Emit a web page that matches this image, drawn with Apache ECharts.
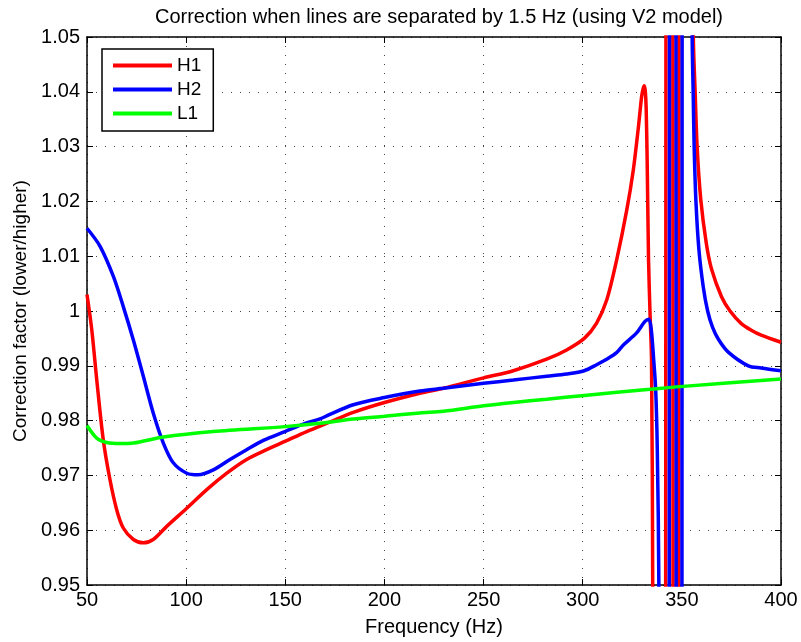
<!DOCTYPE html>
<html>
<head>
<meta charset="utf-8">
<script src="https://cdn.jsdelivr.net/npm/echarts@6/dist/echarts.min.js"></script>
<style>html,body{margin:0;padding:0;background:#fff}#chart{width:801px;height:642px}</style>
</head>
<body>
<div id="chart"></div>
<script>
// ---- data (values beyond 0.95..1.05 are off-scale estimates) ----
const titleText = 'Correction when lines are separated by 1.5 Hz (using V2 model)';
const xLabel = 'Frequency (Hz)';
const yLabel = 'Correction factor (lower/higher)';
const seriesNames = ['H1', 'H2', 'L1'];

const xTickLabels = ['50', '100', '150', '200', '250', '300', '350', '400'];
const yTickLabels = ['0.95', '0.96', '0.97', '0.98', '0.99', '1', '1.01', '1.02', '1.03', '1.04', '1.05'];

const freqH1 = [50, 52.4, 54.9, 58.2, 61.6, 65, 68.3, 73.4, 78.4, 83.4, 90.2, 100.3, 110.4, 120.5, 130.5, 140.6, 149.8, 160.8, 172.2, 184.3, 200, 217.9, 229.7, 250, 265, 281.8, 291.9, 300.8, 307, 312.1, 317.1, 322.2, 325.5, 328.1, 329.7, 330.5, 331.1, 331.6, 332.0, 332.5, 333.2, 334.0, 334.7, 335.3, 336.2,
  341.6, 342.2, 345.3, 345.7, 348.3, 348.7, 355.3, 355.8, 356.7, 357.7, 359.5, 362.3, 365, 370, 374.3, 380, 385, 390, 400];
const valH1 = [1.0030, 0.9966, 0.9875, 0.9765, 0.9692, 0.9637, 0.9604, 0.9583, 0.9577, 0.9583, 0.9607, 0.9640, 0.9674, 0.9704, 0.9729, 0.9747, 0.9762, 0.9780, 0.9797, 0.9815, 0.9833, 0.9850, 0.9859, 0.9878, 0.9891, 0.9912, 0.9929, 0.9950, 0.9978, 1.0020, 1.0093, 1.0184, 1.0257, 1.0336, 1.0391, 1.0406, 1.0411, 1.0400, 1.0370, 1.0276, 1.0093, 0.9990, 0.9911, 0.9500, 0.7500,
  0.7500, 1.2500, 1.2500, 0.7500, 0.7500, 1.2500, 1.1000, 1.0500, 1.0400, 1.0300, 1.0205, 1.0124, 1.0076, 1.0026, 1.0000, 0.9977, 0.9965, 0.9956, 0.9943];

const freqH2 = [50, 56.6, 63.3, 68.3, 73.3, 78.4, 83.4, 88.5, 93.5, 100.3, 106.1, 113.7, 122.1, 130.5, 138.9, 149.8, 160, 167.5, 172.2, 184.3, 200, 217.9, 229.7, 250, 265, 281.8, 291.9, 300.8, 307, 312.1, 317.1, 320.5, 327.2, 331.4, 333.4, 334.6, 335.8, 336.8, 337.6, 338.4, 338.9,
  343.4, 344.0, 346.9, 347.3, 349.9, 350.3, 354.9, 355.2, 355.7, 356.2, 357.1, 358.6, 360.8, 363.0, 365.5, 368.5, 373.4, 383.5, 390, 400];
const valH2 = [1.0151, 1.0118, 1.0063, 1.0008, 0.9948, 0.9881, 0.9814, 0.9759, 0.9723, 0.9704, 0.9701, 0.9710, 0.9729, 0.9747, 0.9764, 0.9780, 0.9795, 0.9803, 0.9811, 0.9829, 0.9842, 0.9854, 0.9859, 0.9868, 0.9874, 0.9881, 0.9885, 0.9891, 0.9902, 0.9912, 0.9924, 0.9938, 0.9960, 0.9981, 0.9985, 0.9965, 0.9911, 0.9856, 0.9750, 0.9500, 0.7500,
  0.7500, 1.2500, 1.2500, 0.7500, 0.7500, 1.2500, 1.1000, 1.0500, 1.0400, 1.0300, 1.0200, 1.0112, 1.0044, 1.0000, 0.9970, 0.9948, 0.9925, 0.9900, 0.9896, 0.9891];

const freqL1 = [50, 54.9, 59.9, 66.6, 73.4, 88.5, 113.7, 149.8, 167.5, 184.3, 200, 217.9, 229.7, 250, 265, 281.8, 300.8, 333.9, 349, 400];
const valL1 = [0.9791, 0.9768, 0.9760, 0.9758, 0.9759, 0.9770, 0.9780, 0.9789, 0.9795, 0.9803, 0.9808, 0.9814, 0.9817, 0.9827, 0.9833, 0.9839, 0.9846, 0.9857, 0.9862, 0.9876];

const colors = ['#ff0000', '#0000ff', '#00ff00'];

// ---- chart ----
const FONT = 'Liberation Sans, Arial, sans-serif';
const xMin = Number(xTickLabels[0]), xMax = Number(xTickLabels[xTickLabels.length - 1]);
const yMin = Number(yTickLabels[0]), yMax = Number(yTickLabels[yTickLabels.length - 1]);
const pairs = (xs, ys, a, b) => xs.slice(a, b).map((x, i) => [x, ys[a + i]]);

// split a curve into: smooth in-range part, off-scale (straight) resonance part, smooth in-range tail
function pieces(xs, ys) {
  const out = ys.map(v => v < yMin || v > yMax);
  const first = out.indexOf(true), last = out.lastIndexOf(true);
  if (first < 0) return [{ data: pairs(xs, ys, 0, xs.length), smooth: true }];
  return [
    { data: pairs(xs, ys, 0, first + 1), smooth: true },
    { data: pairs(xs, ys, first, last + 1), smooth: false },
    { data: pairs(xs, ys, last, xs.length), smooth: true }
  ];
}

const yLabelFor = v => { const s = String(parseFloat(Number(v).toFixed(2))); return yTickLabels.includes(s) ? s : ''; };
const gridLine = { show: true, lineStyle: { color: '#444', width: 1, type: [1, 8] } };
const txt = { color: '#000', fontFamily: FONT, fontSize: 20 };

const baseX = { type: 'value', min: xMin, max: xMax, interval: 50,
  axisLine: { show: true, onZero: false, lineStyle: { color: '#000', width: 1.5 } },
  axisTick: { show: true, inside: true, length: 6, lineStyle: { color: '#000', width: 1 } } };
const baseY = { type: 'value', min: yMin, max: yMax, interval: 0.01,
  axisLine: { show: true, onZero: false, lineStyle: { color: '#000', width: 1.5 } },
  axisTick: { show: true, inside: true, length: 6, lineStyle: { color: '#000', width: 1 } } };

const curves = [[freqH1, valH1], [freqH2, valH2], [freqL1, valL1]];
const series = [];
curves.forEach(([xs, ys], i) => {
  pieces(xs, ys).forEach(p => series.push({
    name: seriesNames[i], type: 'line', data: p.data, smooth: p.smooth ? 0.3 : false,
    xAxisIndex: 0, yAxisIndex: 0, symbol: 'none', showSymbol: false, clip: true,
    color: colors[i], itemStyle: { color: colors[i] }, lineStyle: { color: colors[i], width: 3.5 }, z: 3 + i
  }));
});

const chart = echarts.init(document.getElementById('chart'), null, { renderer: 'canvas' });
chart.setOption({
  animation: false,
  backgroundColor: '#fff',
  title: { text: titleText, left: 434, top: 2, textAlign: 'center',
    textStyle: { color: '#000', fontFamily: FONT, fontSize: 20, fontWeight: 'normal' } },
  grid: { left: 87, right: 20, top: 37, bottom: 57, containLabel: false },
  legend: {
    data: seriesNames, orient: 'vertical', left: 102, top: 49, icon: 'rect',
    padding: [7, 12, 8, 11], itemWidth: 59, itemHeight: 4, itemGap: 5,
    backgroundColor: '#fff', borderColor: '#000', borderWidth: 1.5,
    textStyle: { color: '#000', fontFamily: FONT, fontSize: 19 }
  },
  xAxis: [
    Object.assign({}, baseX, { position: 'bottom', name: xLabel, nameLocation: 'middle', nameGap: 32,
      nameTextStyle: txt, axisLabel: Object.assign({ margin: 5, formatter: v => xTickLabels.includes(String(v)) ? String(v) : '' }, txt),
      splitLine: gridLine }),
    Object.assign({}, baseX, { position: 'top', axisLabel: { show: false }, splitLine: { show: false } })
  ],
  yAxis: [
    Object.assign({}, baseY, { position: 'left', name: yLabel, nameLocation: 'middle', nameGap: 56,
      nameTextStyle: Object.assign({}, txt, { fontSize: 19 }), axisLabel: Object.assign({ margin: 7, formatter: yLabelFor }, txt),
      splitLine: gridLine }),
    Object.assign({}, baseY, { position: 'right', axisLabel: { show: false }, splitLine: { show: false } })
  ],
  series: series
});
</script>
</body>
</html>
